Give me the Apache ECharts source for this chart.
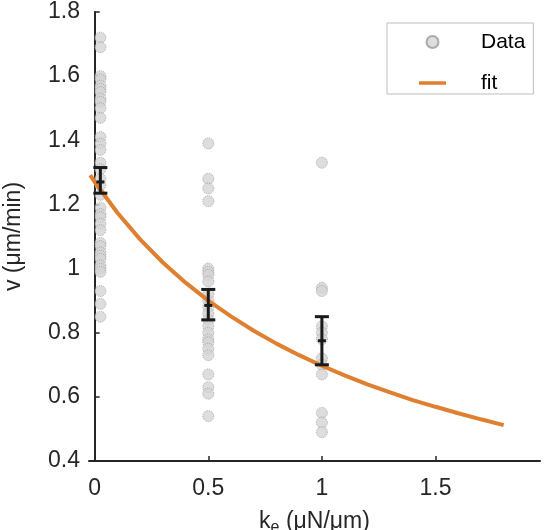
<!DOCTYPE html>
<html>
<head>
<meta charset="utf-8">
<script src="https://cdn.jsdelivr.net/npm/echarts@6/dist/echarts.min.js"></script>
<style>
  html, body { margin: 0; padding: 0; background: #fff; }
  #main { width: 551px; height: 530px; }
</style>
</head>
<body>
<div id="main"></div>
<script>
// x positions of the three measurement groups (µN/µm)
var groupK = [0.025, 0.5, 1];
// individual measurements, one array per group (µm/min)
var vAtK0 = [1.72, 1.69, 1.60, 1.59, 1.57, 1.56, 1.55, 1.53, 1.52, 1.50, 1.47,
             1.41, 1.39, 1.37, 1.33, 1.31, 1.28, 1.26, 1.23, 1.19, 1.17, 1.16,
             1.14, 1.12, 1.08, 1.07, 1.05, 1.04, 1.03, 1.01, 1.00, 0.99, 0.93,
             0.89, 0.85];
var vAtK05 = [1.39, 1.28, 1.25, 1.21, 1.00, 0.99, 0.98, 0.96, 0.92, 0.90, 0.88,
              0.86, 0.84, 0.82, 0.80, 0.78, 0.77, 0.75, 0.73, 0.67, 0.63, 0.61, 0.54];
var vAtK1 = [1.33, 0.94, 0.93, 0.82, 0.80, 0.78, 0.72, 0.70, 0.67, 0.55, 0.52, 0.49];
// mean +- error for each group
var errMean = [1.27, 0.885, 0.775];
var errLow = [1.235, 0.84, 0.70];
var errHigh = [1.315, 0.935, 0.85];
// fit curve
var fitK = [-0.02, 0, 0.1, 0.2, 0.3, 0.4, 0.5, 0.6, 0.7, 0.8, 0.9, 1.0, 1.1, 1.2, 1.3, 1.4, 1.5, 1.6, 1.7, 1.8];
var fitV = [1.291, 1.27, 1.174, 1.091, 1.019, 0.956, 0.90, 0.851, 0.806, 0.766, 0.730, 0.697, 0.667, 0.639, 0.614, 0.590, 0.569, 0.549, 0.530, 0.512];
// ticks
var xTicks = [0, 0.5, 1, 1.5];

var font = '"Liberation Sans", Arial, sans-serif';
var axisCol = '#262626';
var fitCol = '#df7f30';

var scatterData = [];
[vAtK0, vAtK05, vAtK1].forEach(function (arr, i) {
    arr.forEach(function (v) { scatterData.push([groupK[i], v]); });
});
var fitData = fitK.map(function (k, i) { return [k, fitV[i]]; });
var errData = groupK.map(function (k, i) { return [k, errLow[i], errHigh[i], errMean[i]]; });

var chart = echarts.init(document.getElementById('main'));
var option = {
    animation: false,
    backgroundColor: '#fff',
    textStyle: { fontFamily: font },
    grid: { left: 89, right: 11, top: 12, bottom: 69, containLabel: false, outerBoundsMode: 'none' },
    legend: {
        orient: 'vertical',
        left: 387, top: 23,
        padding: [8, 8, 0, 32],
        itemWidth: 27, itemHeight: 12, itemGap: 19,
        backgroundColor: '#fff',
        borderColor: '#bdbdbd', borderWidth: 1,
        textStyle: { fontSize: 21, color: '#000', lineHeight: 22, padding: [0, 0, 0, 30] },
        data: [
            { name: 'Data', icon: 'circle' },
            { name: 'fit', icon: 'path://M0,0 L27,0 L27,3.5 L0,3.5 Z', itemStyle: { color: fitCol } }
        ]
    },
    xAxis: {
        type: 'value',
        min: -0.025, max: 1.96,
        name: '{k|k}{e|e}{k| (μN/μm)}',
        nameLocation: 'middle',
        nameGap: 47,
        nameTextStyle: {
            rich: {
                k: { fontSize: 23, color: axisCol, fontFamily: font },
                e: { fontSize: 16, color: axisCol, fontFamily: font, padding: [12, 0, 0, 0] }
            }
        },
        axisLine: { onZero: false, lineStyle: { color: axisCol, width: 2 } },
        axisTick: { inside: true, length: 5, customValues: xTicks, lineStyle: { color: axisCol, width: 1.5 } },
        axisLabel: { customValues: xTicks, fontSize: 23, color: axisCol, margin: 16, fontFamily: font },
        splitLine: { show: false }
    },
    yAxis: {
        type: 'value',
        min: 0.4, max: 1.8, interval: 0.2,
        name: 'v (μm/min)',
        nameLocation: 'middle',
        nameGap: 64,
        nameTextStyle: { fontSize: 23, color: axisCol, fontFamily: font },
        axisLine: { show: true, lineStyle: { color: axisCol, width: 2 } },
        axisTick: { show: true, inside: true, length: 5, lineStyle: { color: axisCol, width: 1.5 } },
        axisLabel: {
            fontSize: 23, color: axisCol, margin: 9, fontFamily: font,
            formatter: function (v) { return String(Math.round(v * 10) / 10); }
        },
        splitLine: { show: false }
    },
    series: [
        {
            name: 'Data',
            type: 'scatter',
            symbolSize: 11,
            itemStyle: { color: '#d4d4d4', borderColor: '#9a9a9a', borderWidth: 1, borderType: 'dotted' },
            data: scatterData,
            z: 2
        },
        {
            name: 'fit',
            type: 'line',
            showSymbol: false,
            symbol: 'none',
            smooth: false,
            lineStyle: { color: fitCol, width: 4 },
            itemStyle: { color: fitCol },
            data: fitData,
            z: 3
        },
        {
            name: 'err',
            type: 'custom',
            z: 4,
            renderItem: function (params, api) {
                var lo = api.coord([api.value(0), api.value(1)]);
                var hi = api.coord([api.value(0), api.value(2)]);
                var mid = api.coord([api.value(0), api.value(3)]);
                var w = 7;
                var st = { stroke: '#1a1a1a', lineWidth: 3 };
                return {
                    type: 'group',
                    children: [
                        { type: 'line', shape: { x1: lo[0], y1: lo[1], x2: hi[0], y2: hi[1] }, style: st },
                        { type: 'line', shape: { x1: lo[0] - w, y1: lo[1], x2: lo[0] + w, y2: lo[1] }, style: st },
                        { type: 'line', shape: { x1: hi[0] - w, y1: hi[1], x2: hi[0] + w, y2: hi[1] }, style: st },
                        { type: 'line', shape: { x1: mid[0] - 4, y1: mid[1], x2: mid[0] + 4, y2: mid[1] }, style: st }
                    ]
                };
            },
            data: errData
        }
    ]
};
chart.setOption(option);
</script>
</body>
</html>
